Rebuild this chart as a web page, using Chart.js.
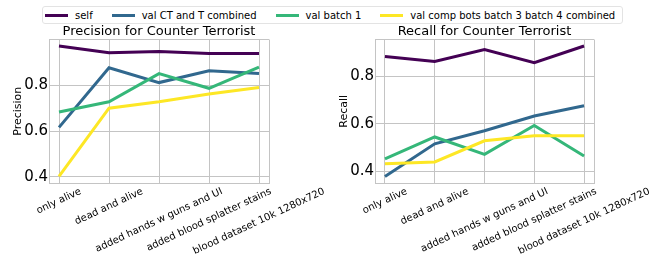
<!DOCTYPE html>
<html>
<head>
<meta charset="utf-8">
<script src="https://cdn.jsdelivr.net/npm/chart.js@4/dist/chart.umd.min.js"></script>
<style>
body{margin:0;background:#fff;font-family:"DejaVu Sans",sans-serif;}
#wrap{position:relative;width:664px;height:254px;overflow:hidden;}
.box{position:absolute;top:0;width:332px;height:254px;}
#legend{position:absolute;left:42px;top:6px;width:581px;height:18px;box-sizing:border-box;
  border:1px solid #e3e3e3;border-radius:3px;background:#fff;z-index:2;font-size:10px;color:#000;
  display:flex;align-items:center;gap:19px;padding-left:2px;white-space:nowrap;}
.item{display:flex;align-items:center;}
.sw{width:23px;height:3px;margin-right:7px;}
</style>
</head>
<body>
<div id="wrap">
  <div id="legend"></div>
  <div class="box" style="left:0"><canvas id="prec" width="332" height="254"></canvas></div>
  <div class="box" style="left:332px"><canvas id="rec" width="332" height="254"></canvas></div>
</div>
<script>
// categories (x axis)
var categories = ['only alive', 'dead and alive', 'added hands w guns and UI',
                  'added blood splatter stains', 'blood dataset 10k 1280x720'];
var seriesNames = ['self', 'val CT and T combined', 'val batch 1', 'val comp bots batch 3 batch 4 combined'];
var seriesColors = ['#440154', '#31688e', '#35b779', '#fde725'];

// precision values per series
var precSelf   = [0.972, 0.943, 0.948, 0.939, 0.939];
var precCTT    = [0.616, 0.877, 0.812, 0.864, 0.852];
var precBatch1 = [0.683, 0.728, 0.851, 0.787, 0.880];
var precBots   = [0.401, 0.700, 0.728, 0.762, 0.790];

// recall values per series
var recSelf   = [0.883, 0.862, 0.912, 0.857, 0.927];
var recCTT    = [0.379, 0.516, 0.571, 0.633, 0.676];
var recBatch1 = [0.453, 0.545, 0.472, 0.593, 0.465];
var recBots   = [0.432, 0.440, 0.529, 0.550, 0.550];

var yTicks = [0.4, 0.6, 0.8];
var gridColor = '#c4c4c4';
var font = '"DejaVu Sans", sans-serif';

// legend
var leg = document.getElementById('legend');
for (var i in seriesNames) {
  var it = document.createElement('div');
  it.className = 'item';
  it.innerHTML = '<span class="sw" style="background:' + seriesColors[i] + '"></span><span>' + seriesNames[i] + '</span>';
  leg.appendChild(it);
}

// rotated, centred category labels + title centred over the plot, like matplotlib
var mplText = {
  id: 'mplText',
  afterDraw: function(chart, args, opts) {
    var ctx = chart.ctx, sx = chart.scales.x, area = chart.chartArea;
    var ang = 25 * Math.PI / 180, h = 11;
    ctx.save();
    ctx.fillStyle = '#000';
    ctx.textAlign = 'center';
    ctx.textBaseline = 'middle';
    ctx.font = '13px ' + font;
    ctx.fillText(opts.title, (area.left + area.right) / 2, area.top - 7.5);
    ctx.font = '10px ' + font;
    categories.forEach(function(lab, i) {
      var w = ctx.measureText(lab).width;
      var x = sx.getPixelForValue(i);
      var y = area.bottom + 3 + (w * Math.sin(ang) + h * Math.cos(ang)) / 2;
      ctx.save();
      ctx.translate(x, y);
      ctx.rotate(-ang);
      ctx.fillText(lab, 0, 0);
      ctx.restore();
    });
    ctx.restore();
  }
};

function makeChart(id, title, yLabel, series, axisW, padRight, yTitlePad) {
  var all = [].concat.apply([], series);
  var lo = Math.min.apply(null, all), hi = Math.max.apply(null, all);
  var m = (hi - lo) * 0.05;
  var yMin = lo - m, yMax = hi + m;

  var datasets = series.map(function(vals, s) {
    return {
      label: seriesNames[s],
      data: vals.map(function(v, i) { return {x: i, y: v}; }),
      borderColor: seriesColors[s],
      backgroundColor: seriesColors[s],
      borderWidth: 3,
      pointRadius: 0,
      tension: 0,
      order: series.length - s
    };
  });

  return new Chart(document.getElementById(id), {
    type: 'line',
    data: {datasets: datasets},
    plugins: [mplText],
    options: {
      responsive: false,
      animation: false,
      devicePixelRatio: 1,
      layout: {padding: {left: 0, right: padRight, top: 39.5, bottom: 0}},
      plugins: {
        legend: {display: false},
        tooltip: {enabled: false},
        title: {display: false},
        mplText: {title: title}
      },
      scales: {
        x: {
          type: 'linear', min: -0.2, max: 4.2,
          afterBuildTicks: function(sc) {
            sc.ticks = [-0.2, 0, 1, 2, 3, 4, 4.2].map(function(v) { return {value: v}; });
          },
          afterFit: function(sc) { sc.height = 71; },
          ticks: {display: false},
          grid: {color: gridColor, lineWidth: 1, drawTicks: false},
          border: {color: gridColor}
        },
        y: {
          min: yMin, max: yMax,
          afterBuildTicks: function(sc) {
            sc.ticks = [yMin].concat(yTicks, [yMax]).map(function(v) { return {value: v}; });
          },
          afterFit: function(sc) { sc.width = axisW; },
          ticks: {
            color: '#000', padding: 1,
            font: {family: font, size: 15},
            callback: function(v) { return yTicks.indexOf(v) >= 0 ? v.toFixed(1) : ''; }
          },
          grid: {color: gridColor, lineWidth: 1, drawTicks: false},
          border: {color: gridColor},
          title: {
            display: true, text: yLabel, color: '#000',
            font: {family: font, size: 11},
            padding: {top: yTitlePad, bottom: 0}
          }
        }
      }
    }
  });
}

makeChart('prec', 'Precision for Counter Terrorist', 'Precision',
  [precSelf, precCTT, precBatch1, precBots], 49, 63, 12);
makeChart('rec', 'Recall for Counter Terrorist', 'Recall',
  [recSelf, recCTT, recBatch1, recBots], 43, 70, 6);
</script>
</body>
</html>
